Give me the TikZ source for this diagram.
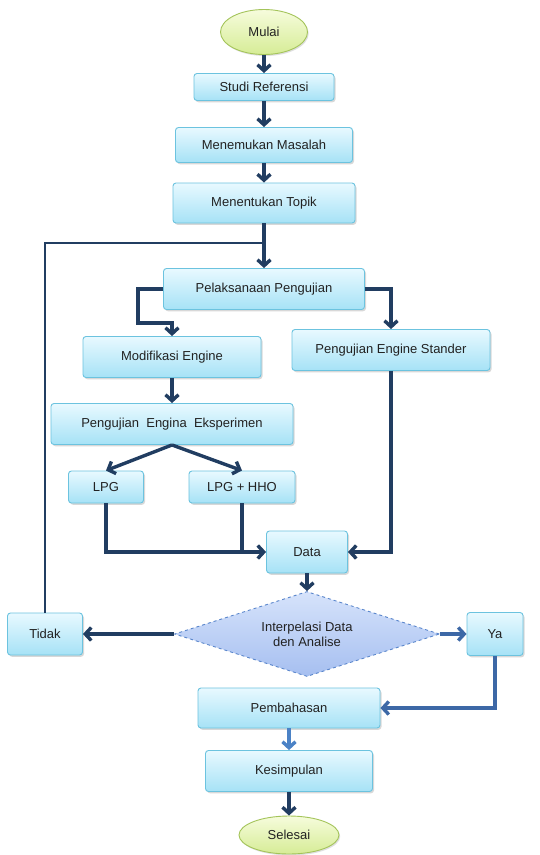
\documentclass[tikz,border=0pt]{standalone}
\usepackage{fontspec}
\setmainfont{Liberation Sans}
\usetikzlibrary{arrows.meta,shapes.geometric,shadows,calc}
\definecolor{navy}{HTML}{213D61}
\definecolor{midblue}{HTML}{3D68A6}
\definecolor{liteblue}{HTML}{4B82C6}
\definecolor{boxborder}{HTML}{6CC3DF}
\definecolor{boxtop}{HTML}{E8F9FF}
\definecolor{boxbot}{HTML}{A6E2F6}
\definecolor{elltop}{HTML}{F6FCDC}
\definecolor{ellbot}{HTML}{D6EC96}
\definecolor{ellborder}{HTML}{A4C45A}
\definecolor{diatop}{HTML}{D6E3FB}
\definecolor{diabot}{HTML}{A6BFF0}
\definecolor{diaborder}{HTML}{5A86CC}
\definecolor{txt}{HTML}{222222}
\begin{document}
\begin{tikzpicture}[x=1pt,y=-1pt,
  every node/.style={font=\fontsize{13}{15}\selectfont, text=txt, inner sep=0pt},
  box/.style={draw=boxborder, line width=0.9pt, rounded corners=3pt,
    top color=boxtop, bottom color=boxbot,
    drop shadow={shadow xshift=1.5pt, shadow yshift=-1.8pt, opacity=0.3}},
  term/.style={ellipse, draw=ellborder, line width=0.9pt,
    top color=elltop, bottom color=ellbot,
    drop shadow={shadow xshift=1.2pt, shadow yshift=-1.5pt, opacity=0.25}},
  decide/.style={diamond, aspect=3.1, draw=diaborder, dashed, line width=0.9pt,
    top color=diatop, bottom color=diabot, align=center},
  arr/.style={draw=navy, line width=3.4pt, -{Straight Barb[length=6pt,width=13pt]}},
  plain/.style={draw=navy, line width=2.6pt},
]
\useasboundingbox (0,0) rectangle (539,855);
\fill[white] (0,0) rectangle (539,855);

\node[term, minimum width=87pt, minimum height=45pt] (mulai) at (264,32) {Mulai};
\node[box, minimum width=140pt, minimum height=27pt] (studi) at (264,87) {Studi Referensi};
\node[box, minimum width=177pt, minimum height=35pt] (masalah) at (264,145) {Menemukan Masalah};
\node[box, minimum width=182pt, minimum height=40pt] (topik) at (264,203) {Menentukan Topik};
\node[box, minimum width=201pt, minimum height=41pt] (pel) at (264,289) {Pelaksanaan Pengujian};
\node[box, minimum width=178pt, minimum height=41pt] (modif) at (172,357) {Modifikasi Engine};
\node[box, minimum width=198pt, minimum height=41pt] (std) at (391,350) {Pengujian Engine Stander};
\node[box, minimum width=242pt, minimum height=41pt] (eksp) at (172,424) {Pengujian\ \ Engina\ \ Eksperimen};
\node[box, minimum width=75pt, minimum height=32pt] (lpg) at (106,487) {LPG};
\node[box, minimum width=106pt, minimum height=32pt] (hho) at (242,487) {LPG + HHO};
\node[box, minimum width=81pt, minimum height=42pt] (data) at (307,552) {Data};
\node[decide, minimum width=265pt, minimum height=85pt] (dia) at (307,634) {Interpelasi Data\\den Analise};
\node[box, minimum width=75pt, minimum height=42pt] (tidak) at (45,634) {Tidak};
\node[box, minimum width=56pt, minimum height=43pt] (ya) at (495,634) {Ya};
\node[box, minimum width=182pt, minimum height=40pt] (pemb) at (289,708) {Pembahasan};
\node[box, minimum width=167pt, minimum height=41pt] (kes) at (289,771) {Kesimpulan};
\node[term, minimum width=100pt, minimum height=38pt] (selesai) at (289,835) {Selesai};

\coordinate (loopc) at (264,243);
\coordinate (lbend) at (138,323);
\coordinate (join) at (242,552);

\draw[arr] (mulai.south) -- (studi.north);
\draw[arr] (studi.south) -- (masalah.north);
\draw[arr] (masalah.south) -- (topik.north);
\draw[arr] (topik.south) -- (pel.north);
\draw[plain] (tidak.north) |- (loopc);
\draw[arr] (pel.west) -| (lbend) -| (modif.north);
\draw[arr] (pel.east) -| (std.north);
\draw[arr] (modif.south) -- (eksp.north);
\draw[arr] (eksp.south) -- (lpg.north);
\draw[arr] (eksp.south) -- (hho.north);
\draw[arr] (lpg.south) |- (data.west);
\draw[plain, line width=3.4pt] (hho.south) -- (join);
\draw[arr] (std.south) |- (data.east);
\draw[arr] (data.south) -- (dia.north);
\draw[arr] (dia.west) -- (tidak.east);
\draw[arr, draw=midblue] (dia.east) -- (ya.west);
\draw[arr, draw=midblue] (ya.south) |- (pemb.east);
\draw[arr, draw=liteblue] (pemb.south) -- (kes.north);
\draw[arr] (kes.south) -- (selesai.north);
\end{tikzpicture}
\end{document}
